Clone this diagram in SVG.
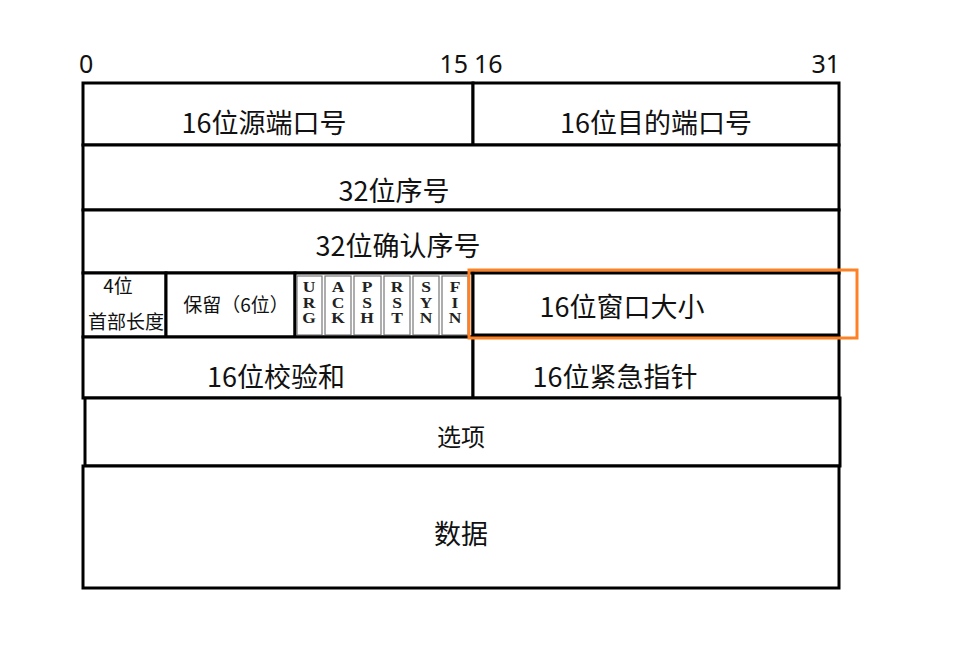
<svg xmlns="http://www.w3.org/2000/svg" width="961" height="652" viewBox="0 0 961 652">
<style>
.cell{fill:#fff;stroke:#000;stroke-width:3}
.flag{fill:none;stroke:#777;stroke-width:1.2}
.t{font-family:"Noto Sans CJK SC","Noto Sans",sans-serif;fill:#111;text-anchor:middle}
.big{font-size:27px}
.mid{font-size:24px}
.sm{font-size:19px}
.num{font-family:"Noto Sans","Noto Sans CJK SC",sans-serif;font-size:25px;fill:#111}
.f{font-family:"Liberation Serif",serif;font-size:14px;font-weight:bold;fill:#222;text-anchor:middle}
</style>
<rect width="961" height="652" fill="#fff"/>
<g id="scale">
<text class="num" x="79" y="73">0</text>
<text class="num" x="468" y="73" text-anchor="end">15</text>
<text class="num" x="474" y="73">16</text>
<text class="num" x="840" y="73" text-anchor="end">31</text>
</g>
<g id="src-port"><rect class="cell" x="83" y="83" width="390" height="62"/><text class="t big" x="264" y="133">16位源端口号</text></g>
<g id="dst-port"><rect class="cell" x="473" y="83" width="366" height="62"/><text class="t big" x="656" y="133">16位目的端口号</text></g>
<g id="seq"><rect class="cell" x="83" y="145" width="756" height="65"/><text class="t big" x="394" y="201">32位序号</text></g>
<g id="ack"><rect class="cell" x="83" y="210" width="756" height="63"/><text class="t big" x="398" y="256">32位确认序号</text></g>
<g id="hlen"><rect class="cell" x="83" y="273" width="83" height="64"/><text class="t sm" x="118" y="293">4位</text><text class="t sm" x="126" y="329">首部长度</text></g>
<g id="reserved"><rect class="cell" x="166" y="273" width="129" height="64"/><text class="t sm" x="236" y="312">保留（6位）</text></g>
<g id="flags">
<rect class="cell" x="295" y="273" width="178" height="64"/>
<rect class="flag" x="297" y="276" width="25" height="59"/>
<rect class="flag" x="325" y="276" width="26" height="59"/>
<rect class="flag" x="354" y="276" width="27" height="59"/>
<rect class="flag" x="384" y="276" width="26" height="59"/>
<rect class="flag" x="413" y="276" width="26" height="59"/>
<rect class="flag" x="442" y="276" width="26" height="59"/>
<text class="f" transform="translate(309 0) scale(1.25 1)"><tspan x="0" y="292.5">U</tspan><tspan x="0" y="308">R</tspan><tspan x="0" y="323.5">G</tspan></text>
<text class="f" transform="translate(338 0) scale(1.25 1)"><tspan x="0" y="292.5">A</tspan><tspan x="0" y="308">C</tspan><tspan x="0" y="323.5">K</tspan></text>
<text class="f" transform="translate(367 0) scale(1.25 1)"><tspan x="0" y="292.5">P</tspan><tspan x="0" y="308">S</tspan><tspan x="0" y="323.5">H</tspan></text>
<text class="f" transform="translate(397 0) scale(1.25 1)"><tspan x="0" y="292.5">R</tspan><tspan x="0" y="308">S</tspan><tspan x="0" y="323.5">T</tspan></text>
<text class="f" transform="translate(426 0) scale(1.25 1)"><tspan x="0" y="292.5">S</tspan><tspan x="0" y="308">Y</tspan><tspan x="0" y="323.5">N</tspan></text>
<text class="f" transform="translate(455 0) scale(1.25 1)"><tspan x="0" y="292.5">F</tspan><tspan x="0" y="308">I</tspan><tspan x="0" y="323.5">N</tspan></text>
</g>
<g id="window"><rect class="cell" x="473" y="273" width="366" height="62"/><text class="t big" x="622" y="317">16位窗口大小</text></g>
<g id="checksum"><rect class="cell" x="83" y="337" width="390" height="61"/><text class="t big" x="276" y="387">16位校验和</text></g>
<g id="urgent"><rect class="cell" x="473" y="337" width="366" height="61"/><text class="t big" x="615" y="387">16位紧急指针</text></g>
<g id="options"><rect class="cell" x="85" y="398" width="755" height="68"/><text class="t mid" x="461" y="446">选项</text></g>
<g id="data"><rect class="cell" x="83" y="466" width="756" height="122"/><text class="t big" x="461" y="544">数据</text></g>
<g id="highlight"><rect x="469" y="270" width="388" height="68" fill="none" stroke="#FF8126" stroke-width="3"/></g>
<g id="connectors"/>
</svg>
